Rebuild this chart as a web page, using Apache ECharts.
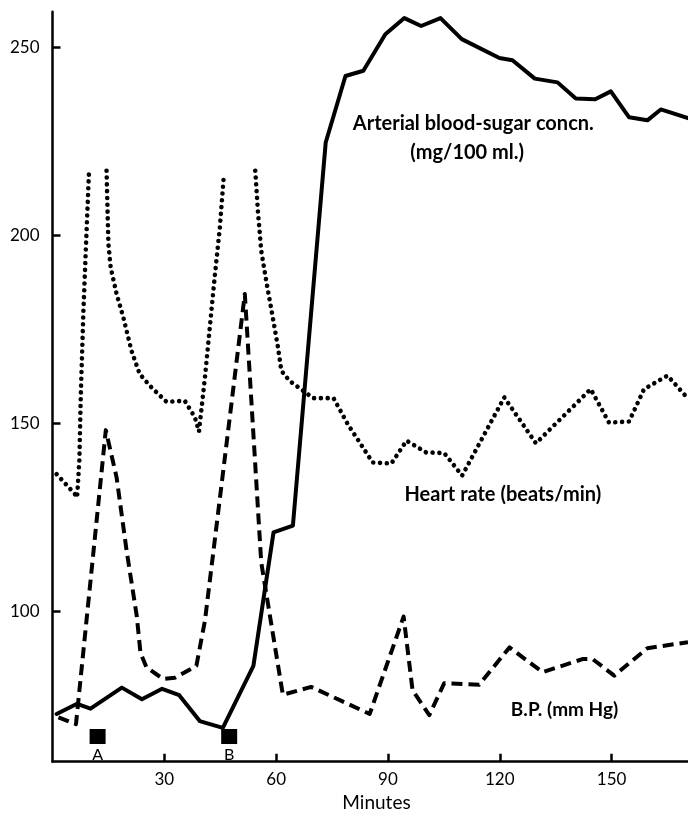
<!DOCTYPE html>
<html>
<head>
<meta charset="utf-8">
<title>Blood sugar, heart rate and blood pressure</title>
<script src="https://cdn.jsdelivr.net/npm/echarts@6/dist/echarts.min.js"></script>
<style>
  html, body { margin: 0; padding: 0; background: #fff; }
  #chart { width: 688px; height: 813px; }
</style>
</head>
<body>
<div id="chart"></div>
<script>
// Arterial blood-sugar concentration (mg/100 ml.)
var sugarMinutes = [1.1, 6.6, 10.2, 18.6, 24.0, 29.4, 34.0, 39.5, 45.7, 53.9, 59.3, 64.5, 73.3, 78.6, 83.4, 89.3, 94.4, 98.9, 104.1, 109.8, 119.9, 123.4, 129.4, 135.5, 140.4, 145.6, 149.8, 154.7, 159.6, 163.2, 170.5];
var sugarValues  = [72.7, 75.4, 74.1, 79.7, 76.6, 79.4, 77.7, 70.8, 69.0, 85.5, 121.0, 122.8, 224.7, 242.4, 243.8, 253.5, 257.8, 255.7, 257.8, 252.2, 247.2, 246.6, 241.7, 240.7, 236.4, 236.2, 238.3, 231.4, 230.6, 233.5, 231.2];

// Heart rate (beats/min); null marks the off-scale stretch after each injection
var heartMinutes = [1.1, 6.0, 6.6, 7.2, 7.6, 8.3, 9.0, 9.8, 12.0, 14.5, 15.0, 15.6, 17.2, 19.0, 21.2, 23.4, 26.6, 30.6, 35.5, 38.2, 39.3, 40.9, 42.2, 43.5, 44.9, 46.0, 50.0, 54.4, 55.1, 56.0, 57.5, 59.1, 60.5, 61.4, 63.6, 67.2, 69.9, 75.4, 79.2, 85.9, 90.9, 95.0, 100.2, 105.1, 109.9, 121.2, 129.7, 144.4, 149.3, 154.7, 158.7, 165.0, 170.5];
var heartValues  = [136.5, 131.2, 130.3, 140.0, 157.8, 180.0, 197.7, 217.2, null, 217.2, 197.7, 191.5, 184.4, 178.2, 169.3, 163.1, 159.5, 155.7, 156.0, 151.6, 147.8, 162.2, 175.5, 188.8, 202.1, 216.3, null, 217.2, 206.5, 195.9, 187.0, 178.2, 170.2, 164.0, 161.3, 158.7, 156.7, 156.7, 149.8, 139.6, 139.3, 145.4, 142.3, 142.1, 136.1, 156.9, 144.7, 159.1, 150.2, 150.5, 159.1, 162.7, 156.6];

// Blood pressure (mm Hg)
var bpMinutes = [1.6, 6.3, 14.3, 17.2, 19.9, 22.6, 23.6, 25.2, 29.7, 32.8, 38.6, 40.9, 51.6, 56.0, 61.8, 69.4, 85.1, 94.2, 96.6, 101.1, 105.1, 114.5, 122.6, 131.5, 142.2, 144.9, 150.7, 159.6, 170.5];
var bpValues  = [71.8, 70.0, 148.2, 135.6, 116.0, 98.8, 89.0, 85.1, 82.0, 82.3, 85.5, 97.5, 184.4, 113.0, 77.8, 79.9, 72.7, 98.6, 79.0, 72.4, 80.9, 80.5, 90.4, 83.8, 87.3, 87.3, 82.9, 90.2, 91.8];

// Injection markers
var markerNames   = ['A', 'B'];
var markerMinutes = [12.1, 47.4];

// Axis ticks
var minuteTicks = [30, 60, 90, 120, 150];
var valueTicks  = [100, 150, 200, 250];

function zip(xs, ys) {
  return xs.map(function (x, i) { return [x, ys[i] === null ? '-' : ys[i]]; });
}

var FONT = 'Lato, "Open Sans", sans-serif';
var MARKER_LEVEL = 66.7;

function note(text, cx, cy, size, weight) {
  return {
    type: 'text',
    x: cx,
    y: cy,
    style: {
      text: text,
      font: (weight || 'bold') + ' ' + size + 'px ' + FONT,
      fill: '#000',
      align: 'center',
      verticalAlign: 'middle'
    }
  };
}

var chart = echarts.init(document.getElementById('chart'), null, { renderer: 'canvas' });

chart.setOption({
  animation: false,
  backgroundColor: '#ffffff',
  grid: { left: 52.5, right: 0, top: 11.7, bottom: 51.3, containLabel: false },
  xAxis: {
    type: 'value',
    min: 0,
    max: 170.5,
    axisLine: { show: true, onZero: false, lineStyle: { color: '#000', width: 2.5 } },
    axisTick: { show: true, inside: true, length: 8, customValues: minuteTicks, lineStyle: { color: '#000', width: 2.5 } },
    axisLabel: { show: true, customValues: minuteTicks, margin: 9, color: '#000', fontSize: 17, fontFamily: FONT },
    splitLine: { show: false }
  },
  yAxis: {
    type: 'value',
    min: 60,
    max: 259.5,
    axisLine: { show: true, onZero: false, lineStyle: { color: '#000', width: 2.5 } },
    axisTick: { show: true, inside: true, length: 8, customValues: valueTicks, lineStyle: { color: '#000', width: 2.5 } },
    axisLabel: { show: true, customValues: valueTicks, margin: 13, color: '#000', fontSize: 17, fontFamily: FONT },
    splitLine: { show: false }
  },
  series: [
    {
      name: 'Arterial blood-sugar concn.',
      type: 'line',
      data: zip(sugarMinutes, sugarValues),
      showSymbol: false,
      lineStyle: { color: '#000', width: 4, join: 'round', cap: 'round' },
      z: 3
    },
    {
      name: 'Heart rate',
      type: 'line',
      data: zip(heartMinutes, heartValues),
      connectNulls: false,
      showSymbol: false,
      lineStyle: { color: '#000', width: 4.6, type: [0.01, 6.8], cap: 'round', join: 'round' },
      z: 2
    },
    {
      name: 'B.P.',
      type: 'line',
      data: zip(bpMinutes, bpValues),
      showSymbol: false,
      lineStyle: { color: '#000', width: 4, type: [11, 6], cap: 'butt', join: 'round' },
      z: 2
    },
    {
      name: 'Injections',
      type: 'scatter',
      data: markerMinutes.map(function (m, i) { return [m, MARKER_LEVEL, markerNames[i]]; }),
      symbol: 'rect',
      symbolSize: [16, 15],
      itemStyle: { color: '#000', opacity: 1 },
      label: {
        show: true,
        position: 'bottom',
        distance: 3,
        formatter: function (p) { return p.data[2]; },
        color: '#000',
        fontSize: 16,
        fontFamily: FONT
      },
      z: 4
    }
  ],
  graphic: [
    note('Arterial blood-sugar concn.', 473.3, 124, 20),
    note('(mg/100 ml.)', 467.2, 152.5, 20),
    note('Heart rate (beats/min)', 502.8, 495, 20),
    note('B.P. (mm Hg)', 564.5, 710, 19),
    note('Minutes', 376.5, 803, 19, 'normal')
  ]
});
</script>
</body>
</html>
